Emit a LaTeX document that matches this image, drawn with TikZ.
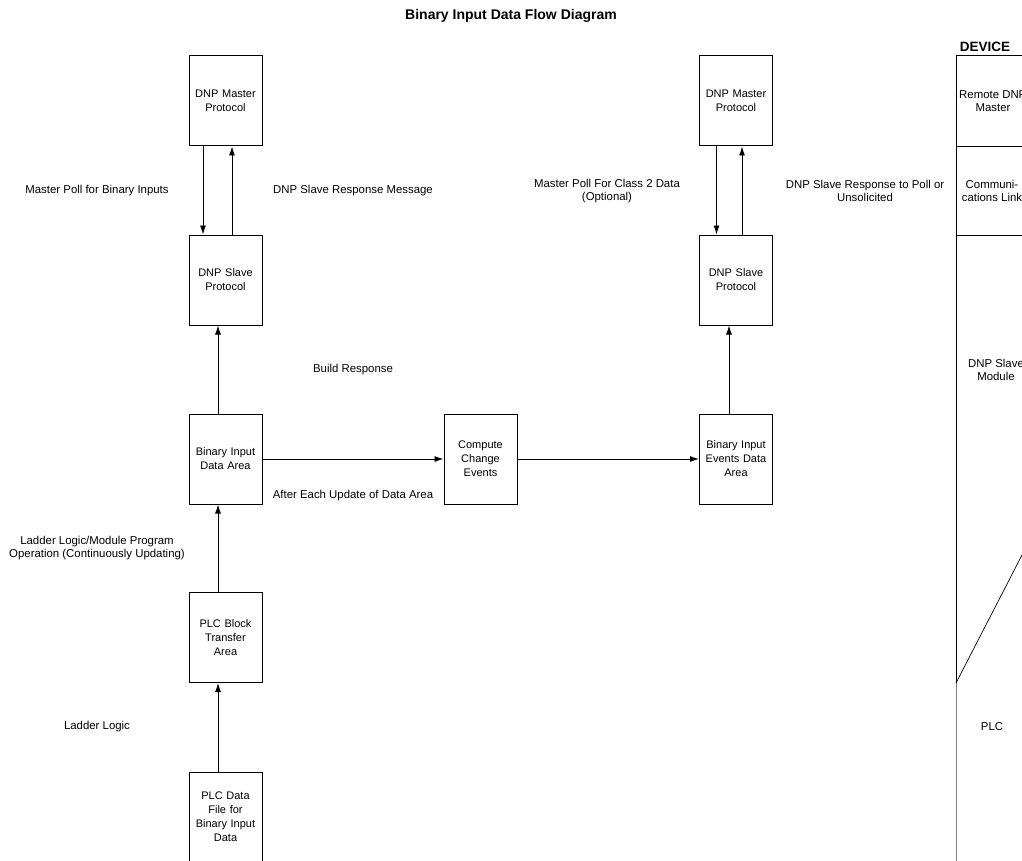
\documentclass[tikz,border=0pt]{standalone}
\usepackage{fontspec}
\setmainfont{Liberation Sans}
\usetikzlibrary{arrows.meta}
\begin{document}
\begin{tikzpicture}[x=1pt,y=-1pt,
  box/.style={draw,line width=1pt,minimum width=73pt,minimum height=90pt,inner sep=0pt,
    text width=72pt,align=center,font=\fontsize{11}{14}\selectfont},
  lbl/.style={align=center,font=\fontsize{11.4}{13.2}\selectfont,inner sep=0pt},
  flow/.style={line width=0.9pt,-{Latex[length=9pt,width=6pt]}}]
\useasboundingbox (0,0) rectangle (1022,861);
\clip (0,0) rectangle (1022,861);
% title
\node[font=\bfseries\fontsize{14}{16}\selectfont] (title) at (511,16) {Binary Input Data Flow Diagram};
% left column
\node[box] (m1) at (225.5,101) {DNP Master\\Protocol};
\node[box] (s1) at (225.5,280) {DNP Slave\\Protocol};
\node[box] (bi) at (225.5,459) {Binary Input\\Data Area};
\node[box] (plcb) at (225.5,637.5) {PLC Block\\Transfer\\Area};
\node[box] (plcf) at (225.5,817) {PLC Data\\File for\\Binary Input\\Data};
% middle
\node[box] (cce) at (480.5,459) {Compute\\Change\\Events};
% right column
\node[box] (m2) at (736,101) {DNP Master\\Protocol};
\node[box] (s2) at (736,280) {DNP Slave\\Protocol};
\node[box] (bie) at (736,459) {Binary Input\\Events Data\\Area};
% connectors
\draw[flow] ([xshift=-22.5pt]m1.south) -- ([xshift=-22.5pt]s1.north);
\draw[flow] ([xshift=6.5pt]s1.north) -- ([xshift=6.5pt]m1.south);
\draw[flow] ([xshift=-7.5pt]bi.north) -- ([xshift=-7.5pt]s1.south);
\draw[flow] ([xshift=-7.5pt]plcb.north) -- ([xshift=-7.5pt]bi.south);
\draw[flow] ([xshift=-7.5pt]plcf.north) -- ([xshift=-7.5pt]plcb.south);
\draw[flow] (bi.east) -- (cce.west);
\draw[flow] (cce.east) -- (bie.west);
\draw[flow] ([xshift=-19.5pt]m2.south) -- ([xshift=-19.5pt]s2.north);
\draw[flow] ([xshift=6pt]s2.north) -- ([xshift=6pt]m2.south);
\draw[flow] ([xshift=-7pt]bie.north) -- ([xshift=-7pt]s2.south);
% labels
\node[lbl] (l1) at (97,191) {Master Poll for Binary Inputs};
\node[lbl] (l2) at (353,191) {DNP Slave Response Message};
\node[lbl] (l3) at (607,191) {Master Poll For Class 2 Data\\(Optional)};
\node[lbl] (l4) at (865,191) {DNP Slave Response to Poll or\\Unsolicited};
\node[lbl] (l5) at (353,370) {Build Response};
\node[lbl] (l6) at (353,496) {After Each Update of Data Area};
\node[lbl] (l7) at (97,548) {Ladder Logic/Module Program\\Operation (Continuously Updating)};
\node[lbl] (l8) at (97,727) {Ladder Logic};
% device column
\node[font=\bfseries\fontsize{13.5}{16}\selectfont] (dev) at (985,47) {DEVICE};
\coordinate (dtop) at (956,56);
\coordinate (dtopr) at (1030,56);
\coordinate (dmid) at (956,683);
\coordinate (dbot) at (956,870);
\coordinate (ddiag) at (1022,555);
\draw[line width=1pt] (dtopr) -- (dtop) -- (dmid);
\draw[line width=1pt,gray] (dmid) -- (dbot);
\draw[line width=0.8pt] (956,146) -- (1030,146);
\draw[line width=0.8pt] (956,235) -- (1030,235);
\draw[line width=0.7pt] (dmid) -- (ddiag);
\node[lbl,anchor=west] (rdm) at (959,95) {Remote DNP};
\node[lbl] (rdm2) at (993,108) {Master};
\node[lbl] (cl) at (992,191) {Communi-\\cations Link};
\node[lbl] (dsm) at (996,370) {DNP Slave\\Module};
\node[lbl] (plc) at (992,727) {PLC};
\end{tikzpicture}
\end{document}
